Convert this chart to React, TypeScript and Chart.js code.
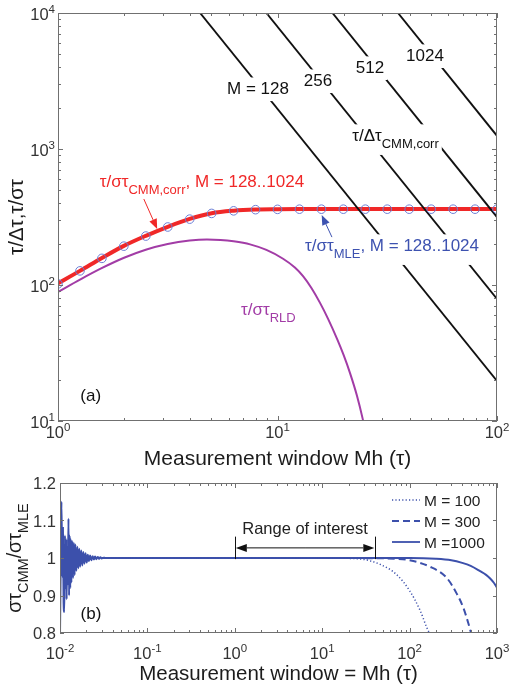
import React, { useEffect, useRef } from "react";
import { Chart, registerables } from "chart.js";

Chart.register(...registerables);

const FONT = '"Liberation Sans", Arial, Helvetica, sans-serif';

// ---------- Panel (a) data ----------
const windowX = [1, 1.259, 1.585, 1.995, 2.512, 3.162, 3.981, 5.012, 6.31, 7.943, 10, 12.59, 15.85, 19.95, 25.12, 31.62, 39.81, 50.12, 63.1, 79.43, 100];
const cmmCorrValues = [103, 127, 158, 194, 230, 268, 306, 337, 352, 359, 361, 362, 362, 362, 362, 362, 362, 362, 362, 362, 362];
const mleValues = [102, 127, 157, 193, 229, 267, 305, 336, 351, 358, 360, 361, 361, 361, 361, 361, 361, 361, 361, 361, 361];
const rldX = [1, 1.26, 1.58, 2.0, 2.51, 3.16, 3.98, 4.77, 5.5, 6.31, 7.5, 8.9, 10.6, 12, 13.1, 14.3, 15.6, 17, 18.7, 20, 21.4, 23, 24.4, 24.7];
const rldValues = [89, 109.6, 132.9, 158.6, 181.7, 200.2, 212.1, 216, 214.4, 209.5, 198.9, 181, 156, 134.5, 115.8, 94.7, 74.2, 56.4, 40, 30.6, 22.5, 15.4, 10.5, 9.55];
const cmmLineM = ["128", "256", "512", "1024"];
const cmmLineStartX = [4.44, 8.9, 17.8, 35.4]; // x where tau/dtau = 1e4
const cmmLineTopY = 10000;
const cmmLineEndX = 100;
const cmmLineEndY = [19.7, 79, 316, 1250]; // tau/dtau at x = 100

const aXTicks = [0, 1, 2]; // exponents
const aYTicks = [1, 2, 3, 4];

// ---------- Panel (b) data ----------
const m1000X = [0.01, 0.0102, 0.0104, 0.0106, 0.0108, 0.011, 0.0112, 0.0114, 0.0116, 0.0118, 0.0119, 0.0121, 0.0123, 0.0125, 0.0127, 0.0129, 0.0131, 0.0133, 0.0135, 0.0138, 0.0141, 0.0144, 0.0147, 0.015, 0.0154, 0.0158, 0.0162, 0.0166, 0.017, 0.0175, 0.018, 0.0185, 0.019, 0.0196, 0.0202, 0.0208, 0.0214, 0.0221, 0.0228, 0.0236, 0.0244, 0.0252, 0.0261, 0.027, 0.028, 0.029, 0.03, 0.0315, 0.033, 1, 10, 100, 200, 300, 400, 500, 640, 750, 830, 920, 1000];
const m1000Y = [0.8, 1.0, 1.15, 0.95, 1.08, 0.88, 0.856, 1.06, 0.92, 1.05, 0.89, 1.03, 0.93, 1.105, 0.9, 1.06, 0.92, 1.05, 0.935, 1.045, 0.947, 1.04, 0.955, 1.036, 0.966, 1.03, 0.973, 1.025, 0.977, 1.02, 0.98, 1.016, 0.985, 1.013, 0.988, 1.009, 0.992, 1.007, 0.994, 1.005, 0.996, 1.004, 0.997, 1.003, 0.998, 1.002, 0.999, 1.001, 1.0, 1.0, 1.0, 1.0, 0.998, 0.994, 0.987, 0.979, 0.965, 0.955, 0.946, 0.934, 0.921];
const m300X = [0.03, 10, 50, 70, 100, 170, 266, 346, 411, 470, 505];
const m300Y = [1.0, 1.0, 0.999, 0.998, 0.994, 0.977, 0.947, 0.905, 0.868, 0.826, 0.8];
const m100X = [0.03, 10, 20, 30, 46, 71, 100, 132, 157, 168];
const m100Y = [1.0, 1.0, 0.999, 0.996, 0.983, 0.956, 0.913, 0.86, 0.815, 0.8];
const legendLabels = ["M = 100", "M = 300", "M =1000"];
const rangeStart = 1;
const rangeEnd = 40.5;
const bXTicks = [-2, -1, 0, 1, 2, 3];
const bYTicks = [0.8, 0.9, 1.0, 1.1, 1.2];
const bYTickLabels = ["0.8", "0.9", "1", "1.1", "1.2"];

// ---------- colours ----------
const RED = "#f02828";
const BLUE_TXT = "#3d52b0";
const CIRCLE = "#6b7fd6";
const PURPLE = "#a23ca6";
const BCURVE = "#3c50ab";
const FRAME = "#707070";
const TICKTXT = "#333333";
const TITLE = "#1c1c1c";

type Part = { t: string; size: number; dy?: number; color?: string };

function richWidth(ctx: CanvasRenderingContext2D, parts: Part[]) {
  let w = 0;
  for (const p of parts) {
    ctx.font = `${p.size}px ${FONT}`;
    w += ctx.measureText(p.t).width;
  }
  return w;
}

function drawRich(ctx: CanvasRenderingContext2D, x: number, y: number, parts: Part[], align: string, color: string) {
  const w = richWidth(ctx, parts);
  let cx = align === "left" ? x : align === "center" ? x - w / 2 : x - w;
  ctx.textAlign = "left";
  ctx.textBaseline = "alphabetic";
  for (const p of parts) {
    ctx.font = `${p.size}px ${FONT}`;
    ctx.fillStyle = p.color || color;
    ctx.fillText(p.t, cx, y + (p.dy || 0));
    cx += ctx.measureText(p.t).width;
  }
  return w;
}

function drawArrow(ctx: CanvasRenderingContext2D, x1: number, y1: number, x2: number, y2: number, color: string, headLen = 9, headW = 3.8, lw = 1) {
  const ang = Math.atan2(y2 - y1, x2 - x1);
  const bx = x2 - headLen * Math.cos(ang);
  const by = y2 - headLen * Math.sin(ang);
  ctx.strokeStyle = color;
  ctx.fillStyle = color;
  ctx.lineWidth = lw;
  ctx.beginPath();
  ctx.moveTo(x1, y1);
  ctx.lineTo(bx, by);
  ctx.stroke();
  ctx.beginPath();
  ctx.moveTo(x2, y2);
  ctx.lineTo(bx + headW * Math.sin(ang), by - headW * Math.cos(ang));
  ctx.lineTo(bx - headW * Math.sin(ang), by + headW * Math.cos(ang));
  ctx.closePath();
  ctx.fill();
}

function expLabel(e: number): Part[] {
  return [
    { t: "10", size: 16.5 },
    { t: String(e), size: 11.5, dy: -7.5 },
  ];
}

function drawFrame(ctx: CanvasRenderingContext2D, a: any) {
  ctx.strokeStyle = FRAME;
  ctx.lineWidth = 1;
  ctx.strokeRect(Math.round(a.left) + 0.5, Math.round(a.top) + 0.5, Math.round(a.right - a.left) - 1, Math.round(a.bottom - a.top) - 1);
}

function drawLogTicksX(ctx: CanvasRenderingContext2D, a: any, X: (v: number) => number, e0: number, e1: number) {
  ctx.strokeStyle = FRAME;
  ctx.lineWidth = 1;
  for (let e = e0; e <= e1; e++) {
    for (let m = 1; m <= 9; m++) {
      const v = m * Math.pow(10, e);
      if (v > Math.pow(10, e1) * 1.0001) continue;
      const px = Math.round(X(v)) + 0.5;
      const len = m === 1 ? 5 : 3;
      ctx.beginPath();
      ctx.moveTo(px, a.bottom);
      ctx.lineTo(px, a.bottom - len);
      ctx.moveTo(px, a.top);
      ctx.lineTo(px, a.top + len);
      ctx.stroke();
    }
  }
}

function drawLogTicksY(ctx: CanvasRenderingContext2D, a: any, Y: (v: number) => number, e0: number, e1: number) {
  ctx.strokeStyle = FRAME;
  ctx.lineWidth = 1;
  for (let e = e0; e <= e1; e++) {
    for (let m = 1; m <= 9; m++) {
      const v = m * Math.pow(10, e);
      if (v > Math.pow(10, e1) * 1.0001) continue;
      const py = Math.round(Y(v)) + 0.5;
      const len = m === 1 ? 5 : 3;
      ctx.beginPath();
      ctx.moveTo(a.left, py);
      ctx.lineTo(a.left + len, py);
      ctx.moveTo(a.right, py);
      ctx.lineTo(a.right - len, py);
      ctx.stroke();
    }
  }
}

// annotation positions (data coordinates of panel a)
const panelALabels = [
  { parts: [{ t: "M = 128", size: 17 }], x: 8.15, y: 2535, align: "center", color: "#111", box: true },
  { parts: [{ t: "256", size: 17 }], x: 15.3, y: 2904, align: "center", color: "#111", box: true },
  { parts: [{ t: "512", size: 17 }], x: 26.4, y: 3622, align: "center", color: "#111", box: true },
  { parts: [{ t: "1024", size: 17 }], x: 47.0, y: 4437, align: "center", color: "#111", box: true },
  { parts: [{ t: "τ/Δτ", size: 17 }, { t: "CMM,corr", size: 13, dy: 7 }], x: 21.9, y: 1146, align: "left", color: "#111", box: true },
  { parts: [{ t: "τ/στ", size: 17 }, { t: "CMM,corr", size: 13, dy: 7 }, { t: ", M = 128..1024", size: 17 }], x: 1.55, y: 526, align: "left", color: RED, box: false },
  { parts: [{ t: "τ/στ", size: 17 }, { t: "MLE", size: 13, dy: 7 }, { t: ", M = 128..1024", size: 17 }], x: 13.35, y: 178, align: "left", color: BLUE_TXT, box: true },
  { parts: [{ t: "τ/στ", size: 17 }, { t: "RLD", size: 13, dy: 7 }], x: 6.82, y: 60.1, align: "left", color: PURPLE, box: false },
  { parts: [{ t: "(a)", size: 17 }], x: 1.41, y: 14.0, align: "center", color: "#111", box: false },
];

const panelAPlugin = {
  id: "panelA",
  afterDraw(chart: any) {
    const { ctx, chartArea: a, scales } = chart;
    const X = (v: number) => scales.x.getPixelForValue(v);
    const Y = (v: number) => scales.y.getPixelForValue(v);
    ctx.save();
    // label gaps + labels
    for (const lab of panelALabels) {
      const px = X(lab.x);
      const py = Y(lab.y);
      if (lab.box) {
        const w = richWidth(ctx, lab.parts as Part[]);
        const left = lab.align === "left" ? px : px - w / 2;
        const hasSub = lab.parts.some((p: any) => p.dy);
        ctx.fillStyle = "#ffffff";
        ctx.fillRect(left - 3, py - 17 * 0.8 - 3, w + 6, 17 * 0.8 + (hasSub ? 11 : 4) + 6);
      }
      drawRich(ctx, px, py, lab.parts as Part[], lab.align, lab.color);
    }
    // arrows
    drawArrow(ctx, X(2.46), Y(429), X(2.83), Y(258), RED, 10, 4, 1);
    drawArrow(ctx, X(17.7), Y(225), X(15.9), Y(327), BLUE_TXT, 10, 4, 1);
    // frame and ticks
    drawFrame(ctx, a);
    drawLogTicksX(ctx, a, X, 0, 2);
    drawLogTicksY(ctx, a, Y, 1, 4);
    // tick labels
    for (const e of aXTicks) {
      drawRich(ctx, X(Math.pow(10, e)), a.bottom + 17, expLabel(e), "center", TICKTXT);
    }
    for (const e of aYTicks) {
      drawRich(ctx, a.left - 3, Y(Math.pow(10, e)) + 7, expLabel(e), "right", TICKTXT);
    }
    // axis titles
    drawRich(ctx, (a.left + a.right) / 2, a.bottom + 44, [{ t: "Measurement window Mh (τ)", size: 21 }], "center", TITLE);
    ctx.save();
    ctx.translate(a.left - 35, (a.top + a.bottom) / 2);
    ctx.rotate(-Math.PI / 2);
    drawRich(ctx, 0, 0, [{ t: "τ/Δτ,τ/στ", size: 20.5 }], "center", TITLE);
    ctx.restore();
    ctx.restore();
  },
};

const panelBPlugin = {
  id: "panelB",
  afterDraw(chart: any) {
    const { ctx, chartArea: a, scales } = chart;
    const X = (v: number) => scales.x.getPixelForValue(v);
    const Y = (v: number) => scales.y.getPixelForValue(v);
    ctx.save();
    // range of interest
    const xl = X(rangeStart);
    const xr = X(rangeEnd);
    const ya = Y(1.027);
    ctx.strokeStyle = "#111";
    ctx.lineWidth = 1;
    ctx.beginPath();
    ctx.moveTo(Math.round(xl) + 0.5, Y(1.057));
    ctx.lineTo(Math.round(xl) + 0.5, Y(0.997));
    ctx.moveTo(Math.round(xr) + 0.5, Y(1.057));
    ctx.lineTo(Math.round(xr) + 0.5, Y(0.997));
    ctx.stroke();
    const mid = (xl + xr) / 2;
    drawArrow(ctx, mid, ya, xl + 1, ya, "#111", 11, 4, 1);
    drawArrow(ctx, mid, ya, xr - 1, ya, "#111", 11, 4, 1);
    drawRich(ctx, mid, Y(1.064), [{ t: "Range of interest", size: 16.5 }], "center", "#222");
    // (b)
    drawRich(ctx, X(0.0226), Y(0.837), [{ t: "(b)", size: 17 }], "center", "#111");
    // legend
    const dashes = [[1.2, 2.2], [7, 4], []];
    const widths = [1.5, 2, 1.8];
    for (let i = 0; i < legendLabels.length; i++) {
      const ly = a.top + 17 + i * 21;
      ctx.save();
      ctx.strokeStyle = BCURVE;
      ctx.lineWidth = widths[i];
      ctx.setLineDash(dashes[i]);
      ctx.beginPath();
      ctx.moveTo(a.right - 105, ly);
      ctx.lineTo(a.right - 77, ly);
      ctx.stroke();
      ctx.restore();
      drawRich(ctx, a.right - 73, ly + 5.5, [{ t: legendLabels[i], size: 15.5 }], "left", "#222");
    }
    // frame and ticks
    drawFrame(ctx, a);
    drawLogTicksX(ctx, a, X, -2, 3);
    ctx.strokeStyle = FRAME;
    ctx.lineWidth = 1;
    for (const v of bYTicks) {
      const py = Math.round(Y(v)) + 0.5;
      ctx.beginPath();
      ctx.moveTo(a.left, py);
      ctx.lineTo(a.left + 4, py);
      ctx.moveTo(a.right, py);
      ctx.lineTo(a.right - 4, py);
      ctx.stroke();
    }
    // tick labels
    for (const e of bXTicks) {
      drawRich(ctx, X(Math.pow(10, e)), a.bottom + 26, expLabel(e), "center", TICKTXT);
    }
    bYTicks.forEach((v, i) => {
      drawRich(ctx, a.left - 4, Y(v) + 6, [{ t: bYTickLabels[i], size: 16.5 }], "right", TICKTXT);
    });
    // titles
    drawRich(ctx, (a.left + a.right) / 2, a.bottom + 47, [{ t: "Measurement window = Mh (τ)", size: 20.5 }], "center", TITLE);
    ctx.save();
    ctx.translate(a.left - 39, (a.top + a.bottom) / 2);
    ctx.rotate(-Math.PI / 2);
    drawRich(ctx, 0, 0, [
      { t: "στ", size: 19.5 },
      { t: "CMM", size: 14.5, dy: 7 },
      { t: "/στ", size: 19.5 },
      { t: "MLE", size: 14.5, dy: 7 },
    ], "center", TITLE);
    ctx.restore();
    ctx.restore();
  },
};

function pts(xs: number[], ys: number[]) {
  return xs.map((x, i) => ({ x, y: ys[i] }));
}

export default function App() {
  const topRef = useRef<HTMLCanvasElement>(null);
  const botRef = useRef<HTMLCanvasElement>(null);

  useEffect(() => {
    const lineDatasets = cmmLineM.map((m, i) => ({
      label: `tau/dtau CMM,corr M=${m}`,
      data: [
        { x: cmmLineStartX[i], y: cmmLineTopY },
        { x: cmmLineEndX, y: cmmLineEndY[i] },
      ],
      borderColor: "#111111",
      borderWidth: 1.9,
      pointRadius: 0,
      order: 1,
    }));

    const chartA = new Chart(topRef.current as HTMLCanvasElement, {
      type: "line",
      data: {
        datasets: [
          {
            label: "tau/sigma MLE",
            data: pts(windowX, mleValues),
            showLine: false,
            pointRadius: 4.3,
            pointBorderColor: CIRCLE,
            pointBackgroundColor: "rgba(0,0,0,0)",
            pointBorderWidth: 1,
            borderColor: CIRCLE,
            order: 0,
          },
          ...lineDatasets,
          {
            label: "tau/sigma CMM,corr",
            data: pts(windowX, cmmCorrValues),
            borderColor: RED,
            borderWidth: 4,
            pointRadius: 0,
            cubicInterpolationMode: "monotone",
            order: 2,
          },
          {
            label: "tau/sigma RLD",
            data: pts(rldX, rldValues),
            borderColor: PURPLE,
            borderWidth: 2,
            pointRadius: 0,
            cubicInterpolationMode: "monotone",
            order: 3,
          },
        ] as any,
      },
      options: {
        animation: false,
        responsive: false,
        events: [],
        layout: { padding: { left: 58, top: 13, right: 13, bottom: 49 } },
        plugins: { legend: { display: false }, tooltip: { enabled: false } },
        scales: {
          x: { type: "logarithmic", min: 1, max: 100, display: false },
          y: { type: "logarithmic", min: 10, max: 10000, display: false },
        },
      } as any,
      plugins: [panelAPlugin],
    });

    const chartB = new Chart(botRef.current as HTMLCanvasElement, {
      type: "line",
      data: {
        datasets: [
          {
            label: "M = 100",
            data: pts(m100X, m100Y),
            borderColor: BCURVE,
            borderWidth: 1.5,
            borderDash: [1.2, 2.2],
            pointRadius: 0,
            cubicInterpolationMode: "monotone",
          },
          {
            label: "M = 300",
            data: pts(m300X, m300Y),
            borderColor: BCURVE,
            borderWidth: 2,
            borderDash: [7, 4],
            pointRadius: 0,
            cubicInterpolationMode: "monotone",
          },
          {
            label: "M =1000",
            data: pts(m1000X, m1000Y),
            borderColor: BCURVE,
            borderWidth: 2,
            pointRadius: 0,
            cubicInterpolationMode: "monotone",
          },
        ] as any,
      },
      options: {
        animation: false,
        responsive: false,
        events: [],
        layout: { padding: { left: 60, top: 13, right: 13, bottom: 51 } },
        plugins: { legend: { display: false }, tooltip: { enabled: false } },
        scales: {
          x: { type: "logarithmic", min: 0.01, max: 1000, display: false },
          y: { type: "linear", min: 0.8, max: 1.2, display: false },
        },
      } as any,
      plugins: [panelBPlugin],
    });

    return () => {
      chartA.destroy();
      chartB.destroy();
    };
  }, []);

  return (
    <div style={{ position: "fixed", left: 0, top: 0, width: 510, height: 684, background: "#ffffff" }}>
      <canvas ref={topRef} width={510} height={470} style={{ position: "absolute", left: 0, top: 0, width: 510, height: 470 }} />
      <canvas ref={botRef} width={510} height={214} style={{ position: "absolute", left: 0, top: 470, width: 510, height: 214 }} />
    </div>
  );
}
